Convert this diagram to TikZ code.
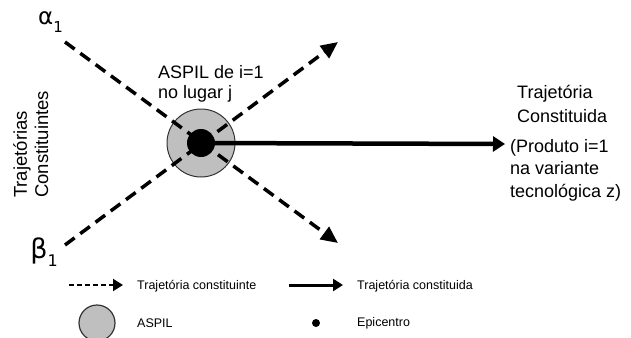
\documentclass[tikz,border=0pt]{standalone}
\usepackage{fontspec}
\setmainfont{Liberation Sans}
\newfontfamily\greekfont{DejaVu Sans}
\usetikzlibrary{arrows.meta}

\begin{document}
\begin{tikzpicture}
[x=1pt,y=-1pt,>={Triangle[length=17pt,width=15pt]},
aspil/.style={draw=black!80,circle,fill=black!25,line width=1pt,inner sep=0pt},
epic/.style={circle,fill=black,inner sep=0pt},
dashline/.style={line width=3.5pt,dash pattern=on 12pt off 7pt},
bigtext/.style={font=\fontsize{18}{23}\selectfont,align=left,inner sep=0pt},
smalltext/.style={font=\fontsize{12.5}{14}\selectfont,inner sep=0pt,anchor=west},]

\useasboundingbox (0,0) rectangle (631,337);

%Center of the ASPIL
\def\Cx{201}
\def\Cy{143}

%Ends of the trajectories
\coordinate (a1) at (65,42);
\coordinate (b1) at (65,245);
\coordinate (e1) at (338,243);
\coordinate (e2) at (338,42);
\coordinate (T) at (505,144);

%Drawing ASPIL
\node (S) at (\Cx,\Cy)[aspil,minimum size=68pt] {};

%Drawing lines
\draw[dashline,->] (a1) -- (e1);
\draw[dashline,->] (b1) -- (e2);
\node (E) at (\Cx,\Cy)[epic,minimum size=28pt] {};
\draw[line width=4.5pt,-{Triangle[length=12pt,width=15pt]}] (E) -- (T);

%Labeling points
\node (alpha) at (a1)[anchor=south east,xshift=-2pt,yshift=9pt,inner sep=0pt]
  {\fontsize{23}{23}\greekfont α\raisebox{-8pt}{\fontsize{15}{15}\selectfont 1}};
\node (beta) at (b1)[anchor=north east,xshift=-7pt,yshift=7pt,inner sep=0pt]
  {\fontsize{27}{27}\greekfont β\raisebox{-8pt}{\fontsize{16}{16}\selectfont 1}};
\node (aspillab) at (158,98)[bigtext,font=\fontsize{18}{20}\selectfont,anchor=base west] {ASPIL de i=1\\no lugar j};
\node (lefttext) at (48,198)[bigtext,font=\fontsize{18.5}{21}\selectfont,rotate=90,anchor=base west]
  {Trajetórias\\Constituintes};
\node (toptext) at (517,122)[bigtext,font=\fontsize{18}{24}\selectfont,anchor=base west] {Trajetória\\Constituida};
\node (prodtext) at (510,197)[bigtext,font=\fontsize{18}{22.5}\selectfont,anchor=base west]
  {(Produto i=1\\na variante\\tecnológica z)};

%Legend
\coordinate (l1a) at (69,285);
\coordinate (l1b) at (123,285);
\coordinate (l2a) at (289,285);
\coordinate (l2b) at (343,285);
\draw[line width=2pt,dash pattern=on 5pt off 3pt,-{Triangle[length=10pt,width=12pt]}] (l1a) -- (l1b);
\draw[line width=3pt,-{Triangle[length=10pt,width=12pt]}] (l2a) -- (l2b);
\node (leg1) at (137,286)[smalltext] {Trajetória constituinte};
\node (leg2) at (357,286)[smalltext] {Trajetória constituida};
\node (legS) at (97,323)[aspil,line width=1.2pt,minimum size=36pt] {};
\node (leg3) at (137,323)[smalltext] {ASPIL};
\node (legE) at (316,323)[epic,minimum size=8pt] {};
\node (leg4) at (357,323)[smalltext] {Epicentro};

\end{tikzpicture}
\end{document}
